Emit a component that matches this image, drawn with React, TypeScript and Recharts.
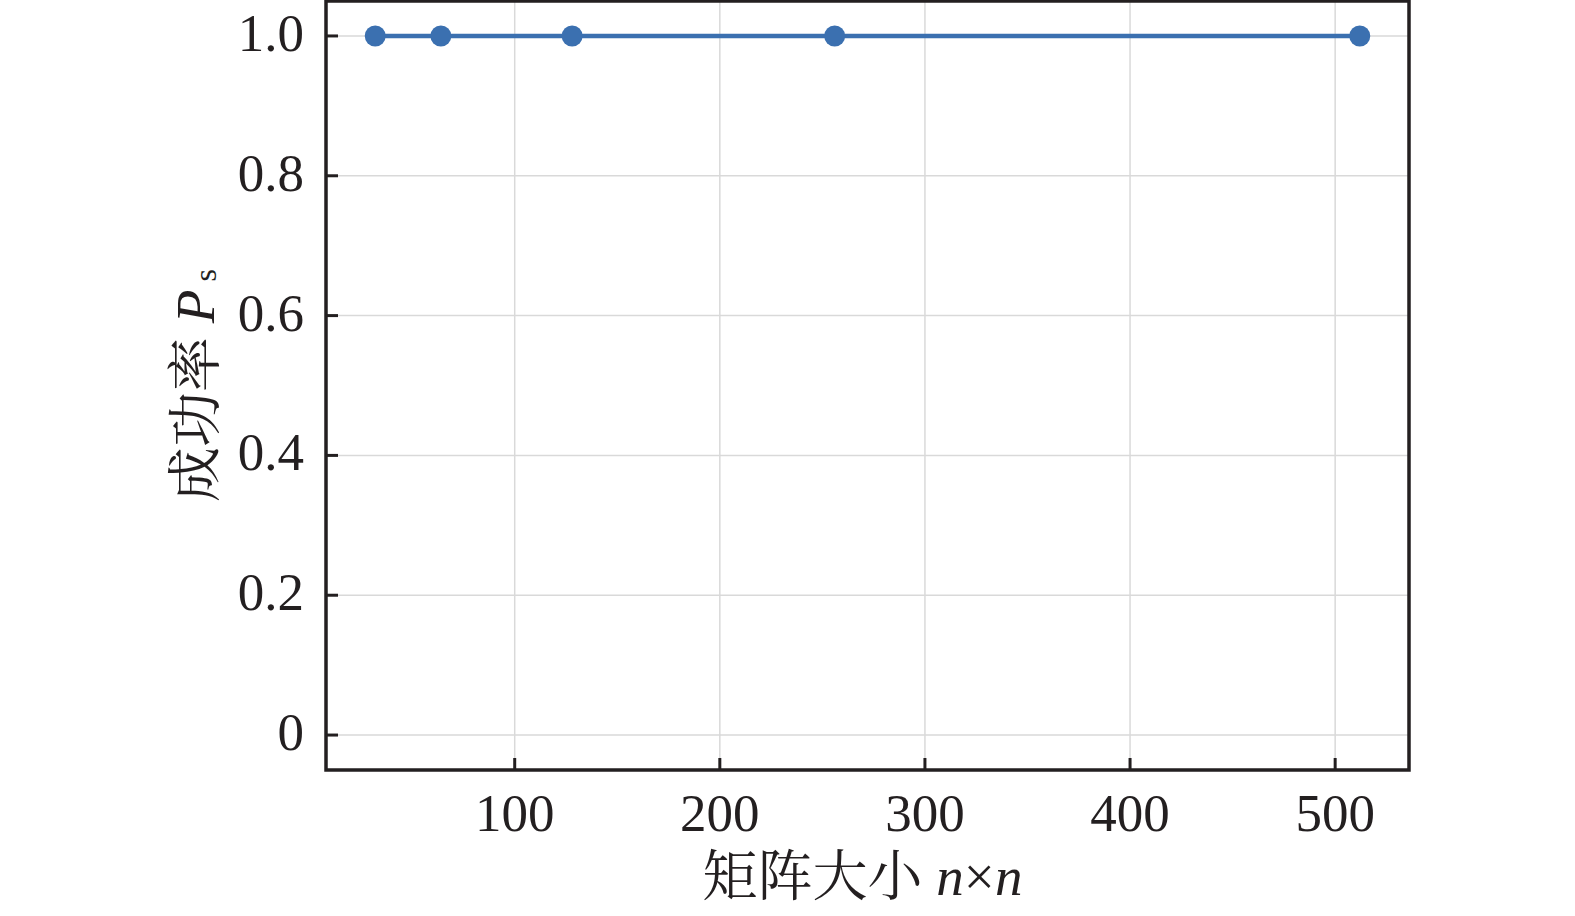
import React from "react";
import {
  LineChart,
  Line,
  XAxis,
  YAxis,
  CartesianGrid,
  ReferenceArea,
  Label,
} from "recharts";

// 矩阵大小与成功率
const sizes = [32, 64, 128, 256, 512];
const successRate = [1, 1, 1, 1, 1];
const xTicks = [100, 200, 300, 400, 500];
const yTicks = [0, 0.2, 0.4, 0.6, 0.8, 1.0];

const data = sizes.map((n, i) => ({ n, ps: successRate[i] }));

const FONT = '"Liberation Serif", "Times New Roman", "Noto Serif CJK SC", "Noto Sans CJK SC", serif';
const INK = "#231f20";
const BLUE = "#3b70b0";

const XTick = (props: any) => {
  const { x, y, payload } = props;
  const axisY = y - 20;
  return (
    <g>
      <line x1={x} x2={x} y1={axisY} y2={axisY - 12} stroke={INK} strokeWidth={3} />
      <text x={x} y={axisY + 61} textAnchor="middle" fontSize={53} fontFamily={FONT} fill={INK}>
        {payload.value}
      </text>
    </g>
  );
};

const YTick = (props: any) => {
  const { x, y, payload } = props;
  const axisX = x + 20;
  const v = payload.value;
  return (
    <g>
      <line x1={axisX} x2={axisX + 12} y1={y} y2={y} stroke={INK} strokeWidth={3} />
      <text x={axisX - 22} y={y + 15} textAnchor="end" fontSize={53} fontFamily={FONT} fill={INK}>
        {v === 0 ? "0" : v.toFixed(1)}
      </text>
    </g>
  );
};

const XTitle = (props: any) => {
  const { x, y, width } = props.viewBox;
  return (
    <text x={x + width / 2 - 5} y={y + 125} textAnchor="middle" fontSize={55} fontFamily={FONT} fill={INK}>
      矩阵大小 <tspan fontStyle="italic">n</tspan>×<tspan fontStyle="italic">n</tspan>
    </text>
  );
};

const YTitle = (props: any) => {
  const { y, height } = props.viewBox;
  const cx = 195;
  const cy = y + height / 2;
  return (
    <text
      x={cx}
      y={cy}
      transform={`rotate(-90 ${cx} ${cy})`}
      textAnchor="middle"
      dominantBaseline="central"
      fontSize={55}
      fontFamily={FONT}
      fill={INK}
    >
      成功率 <tspan fontStyle="italic">P</tspan>
      <tspan fontSize={32} dy={10}> s</tspan>
    </text>
  );
};

export default function App() {
  return (
    <div style={{ position: "absolute", left: 0, top: 0, background: "#fff" }}>
      <LineChart
        width={1575}
        height={916}
        data={data}
        margin={{ top: 1, right: 166, left: 166, bottom: 16 }}
      >
        <CartesianGrid stroke="#d9d9d9" strokeWidth={1.5} />
        <XAxis
          dataKey="n"
          type="number"
          domain={[8, 536]}
          ticks={xTicks}
          height={130}
          axisLine={false}
          tickLine={false}
          tickSize={0}
          tickMargin={20}
          tick={<XTick />}
          interval={0}
        >
          <Label content={<XTitle />} />
        </XAxis>
        <YAxis
          type="number"
          domain={[-0.05, 1.05]}
          ticks={yTicks}
          width={160}
          axisLine={false}
          tickLine={false}
          tickSize={0}
          tickMargin={20}
          tick={<YTick />}
          interval={0}
          allowDataOverflow
        >
          <Label content={<YTitle />} />
        </YAxis>
        <Line
          dataKey="ps"
          stroke={BLUE}
          strokeWidth={4.5}
          dot={{ r: 10.5, fill: BLUE, stroke: "none" }}
          activeDot={false}
          isAnimationActive={false}
        />
        <ReferenceArea
          x1={8}
          x2={536}
          y1={-0.05}
          y2={1.05}
          fill="none"
          stroke={INK}
          strokeWidth={3.5}
          ifOverflow="visible"
        />
      </LineChart>
    </div>
  );
}
